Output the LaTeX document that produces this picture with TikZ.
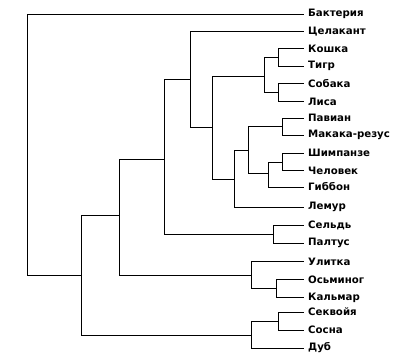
\documentclass[tikz,border=0pt]{standalone}
\usepackage{fontspec}
\setmainfont{DejaVu Sans}
\begin{document}
\begin{tikzpicture}[x=1pt,y=-1pt,
  branch/.style={line width=1pt, line cap=rect},
  leaf/.style={anchor=west, inner xsep=5pt, inner ysep=0pt, font=\bfseries\fontsize{10.2}{12}\selectfont}]
\useasboundingbox (0,0) rectangle (411,360);
% leaves
\node[leaf] (l0) at (303,14.3) {Бактерия};
\node[leaf] (l1) at (303,31.7) {Целакант};
\node[leaf] (l2) at (303,48.5) {Кошка};
\node[leaf] (l3) at (303,66) {Тигр};
\node[leaf] (l4) at (303,83.5) {Собака};
\node[leaf] (l5) at (303,101.5) {Лиса};
\node[leaf] (l6) at (303,118) {Павиан};
\node[leaf] (l7) at (303,135) {Макака-резус};
\node[leaf] (l8) at (303,153) {Шимпанзе};
\node[leaf] (l9) at (303,170.5) {Человек};
\node[leaf] (l10) at (303,187) {Гиббон};
\node[leaf] (l11) at (303,207) {Лемур};
\node[leaf] (l12) at (303,225.5) {Сельдь};
\node[leaf] (l13) at (303,243) {Палтус};
\node[leaf] (l14) at (303,261.5) {Улитка};
\node[leaf] (l15) at (303,279.5) {Осьминог};
\node[leaf] (l16) at (303,297.5) {Кальмар};
\node[leaf] (l17) at (303,312) {Секвойя};
\node[leaf] (l18) at (303,330) {Сосна};
\node[leaf] (l19) at (303,348) {Дуб};
% internal nodes
\coordinate (R) at (27,144.6);
\coordinate (A) at (81,275);
\coordinate (B) at (119,215);
\coordinate (C) at (164,159);
\coordinate (D) at (190,79);
\coordinate (E) at (212,127);
\coordinate (F) at (264,76);
\coordinate (Fa) at (278,57);
\coordinate (Fb) at (278,92.5);
\coordinate (K) at (234,179);
\coordinate (J) at (248,150);
\coordinate (I) at (282,126.5);
\coordinate (H) at (268,173);
\coordinate (G) at (282,162);
\coordinate (Fi) at (273,234);
\coordinate (M) at (251,275);
\coordinate (N) at (276,288.5);
\coordinate (P) at (251,335);
\coordinate (Q) at (278,321);
% connectors
\draw[branch] (R) |- (l0.west);
\draw[branch] (R) |- (A);
\draw[branch] (A) |- (B);
\draw[branch] (A) |- (P);
\draw[branch] (B) |- (C);
\draw[branch] (B) |- (M);
\draw[branch] (C) |- (D);
\draw[branch] (C) |- (Fi);
\draw[branch] (D) |- (l1.west);
\draw[branch] (D) |- (E);
\draw[branch] (E) |- (F);
\draw[branch] (E) |- (K);
\draw[branch] (F) |- (Fa);
\draw[branch] (F) |- (Fb);
\draw[branch] (Fa) |- (l2.west);
\draw[branch] (Fa) |- (l3.west);
\draw[branch] (Fb) |- (l4.west);
\draw[branch] (Fb) |- (l5.west);
\draw[branch] (K) |- (J);
\draw[branch] (K) |- (l11.west);
\draw[branch] (J) |- (I);
\draw[branch] (J) |- (H);
\draw[branch] (I) |- (l6.west);
\draw[branch] (I) |- (l7.west);
\draw[branch] (H) |- (G);
\draw[branch] (H) |- (l10.west);
\draw[branch] (G) |- (l8.west);
\draw[branch] (G) |- (l9.west);
\draw[branch] (Fi) |- (l12.west);
\draw[branch] (Fi) |- (l13.west);
\draw[branch] (M) |- (l14.west);
\draw[branch] (M) |- (N);
\draw[branch] (N) |- (l15.west);
\draw[branch] (N) |- (l16.west);
\draw[branch] (P) |- (Q);
\draw[branch] (P) |- (l19.west);
\draw[branch] (Q) |- (l17.west);
\draw[branch] (Q) |- (l18.west);
\end{tikzpicture}
\end{document}
